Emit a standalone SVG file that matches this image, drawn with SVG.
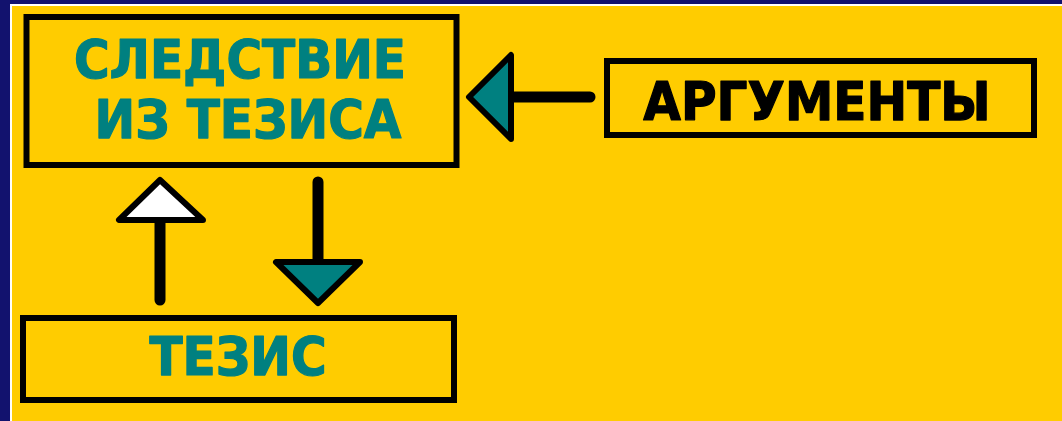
<svg xmlns="http://www.w3.org/2000/svg" width="1062" height="421" viewBox="0 0 1062 421">
<style>
.box{fill:none;stroke:#000;stroke-width:6}
.t{font-family:"DejaVu Sans Condensed","DejaVu Sans",sans-serif;font-stretch:condensed;font-weight:bold;font-size:54px;text-anchor:middle;stroke-width:1.2;stroke-linejoin:round}
.teal{fill:#008080;stroke:#008080}
.blk{fill:#000;stroke:#000}
.shaft{stroke:#000;stroke-width:11;stroke-linecap:round;fill:none}
.head{stroke:#000;stroke-width:6;stroke-linejoin:round}
</style>
<rect x="0" y="0" width="1062" height="421" fill="#12126e"/>
<rect x="10" y="4" width="1052" height="417" fill="#ffffff"/>
<rect x="12" y="6" width="1050" height="415" fill="#ffcc00"/>
<g id="node-sledstvie">
<rect class="box" x="26.5" y="17" width="430" height="148"/>
<text class="t teal" x="240" y="78">СЛЕДСТВИЕ</text>
<text class="t teal" x="248" y="138">ИЗ ТЕЗИСА</text>
</g>
<g id="node-argumenty">
<rect class="box" x="607" y="61" width="427" height="74"/>
<text class="t blk" x="817" y="120">АРГУМЕНТЫ</text>
</g>
<g id="node-tezis">
<rect class="box" x="23" y="318" width="431" height="82"/>
<text class="t teal" x="238" y="375">ТЕЗИС</text>
</g>
<g id="connectors">
<line class="shaft" x1="590" y1="97" x2="512" y2="97"/>
<polygon class="head" fill="#008080" points="469,97 511,55 511,139"/>
<line class="shaft" x1="160" y1="300" x2="160" y2="222"/>
<polygon class="head" fill="#ffffff" points="160,180 119,220 203,220"/>
<line class="shaft" x1="318" y1="182" x2="318" y2="262"/>
<polygon class="head" fill="#008080" points="276,262 360,262 318,303"/>
</g>
</svg>
